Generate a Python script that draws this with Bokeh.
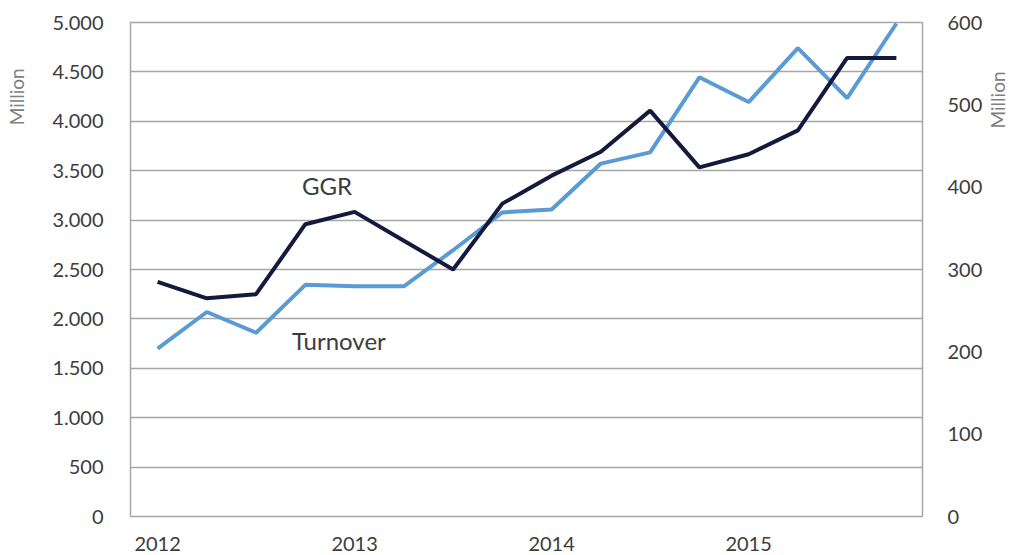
import math
from bokeh.plotting import figure
from bokeh.models import Range1d, LinearAxis, FixedTicker, Label
from bokeh.embed import file_html
from bokeh.resources import INLINE

quarters = ["2012 Q1", "2012 Q2", "2012 Q3", "2012 Q4",
            "2013 Q1", "2013 Q2", "2013 Q3", "2013 Q4",
            "2014 Q1", "2014 Q2", "2014 Q3", "2014 Q4",
            "2015 Q1", "2015 Q2", "2015 Q3", "2015 Q4"]
turnover = [1700, 2070, 1860, 2345, 2330, 2330, 2695, 3078,
            3108, 3572, 3685, 4445, 4195, 4740, 4235, 4990]
ggr = [285, 265, 270, 355, 370, 335, 300, 380,
       414, 443, 493, 424, 440, 469, 557, 557]
year_ticks = [0, 4, 8, 12]
year_labels = ["2012", "2013", "2014", "2015"]
left_ticks = [0, 500, 1000, 1500, 2000, 2500, 3000, 3500, 4000, 4500, 5000]
left_labels = ["0", "500", "1.000", "1.500", "2.000", "2.500", "3.000",
               "3.500", "4.000", "4.500", "5.000"]
right_ticks = [0, 100, 200, 300, 400, 500, 600]
right_labels = ["0", "100", "200", "300", "400", "500", "600"]

FONT = "Lato"
TXT = "#3c3c3c"
GRID = "#a6a6a6"
# leading no-break spaces push the unit labels toward the top of the axes
UNIT_LEFT = "\u00a0" * 71 + "Million"
UNIT_RIGHT = "\u00a0" * 29 + "Million"

xs = list(range(len(quarters)))

p = figure(width=1024, height=555, output_backend="svg", toolbar_location=None,
           x_range=Range1d(-0.55, 15.53), y_range=Range1d(0, 5000),
           min_border_left=130, min_border_right=102, min_border_top=22,
           min_border_bottom=39)
p.extra_y_ranges = {"ggr": Range1d(0, 600)}

p.outline_line_color = GRID
p.outline_line_width = 1.5
p.background_fill_color = "white"
p.border_fill_color = "white"

p.xgrid.grid_line_color = None
p.ygrid.grid_line_color = GRID
p.ygrid.grid_line_width = 1.5


def style_axis(ax, standoff):
    ax.axis_line_color = None
    ax.major_tick_line_color = None
    ax.minor_tick_line_color = None
    ax.major_tick_out = 0
    ax.major_tick_in = 0
    ax.major_label_standoff = standoff
    ax.major_label_text_font = FONT
    ax.major_label_text_font_size = "20px"
    ax.major_label_text_color = TXT


def unit_label(ax, text, standoff):
    ax.axis_label = text
    ax.axis_label_text_font = FONT
    ax.axis_label_text_font_size = "19px"
    ax.axis_label_text_font_style = "normal"
    ax.axis_label_text_color = "#808080"
    ax.axis_label_standoff = standoff


# left axis
ya = p.yaxis[0]
ya.ticker = FixedTicker(ticks=left_ticks)
ya.major_label_overrides = {t: l for t, l in zip(left_ticks, left_labels)}
style_axis(ya, 27)
unit_label(ya, UNIT_LEFT, 21)

# right axis
ra = LinearAxis(y_range_name="ggr", ticker=FixedTicker(ticks=right_ticks))
ra.major_label_overrides = {t: l for t, l in zip(right_ticks, right_labels)}
style_axis(ra, 25)
unit_label(ra, UNIT_RIGHT, 12)
ra.axis_label_orientation = math.pi / 2
p.add_layout(ra, "right")

# x axis
xa = p.xaxis[0]
xa.ticker = FixedTicker(ticks=year_ticks)
xa.major_label_overrides = {t: l for t, l in zip(year_ticks, year_labels)}
style_axis(xa, 20)

p.line(xs, turnover, line_color="#5b9bd5", line_width=4)
p.line(xs, ggr, line_color="#141a3e", line_width=4, y_range_name="ggr")

p.add_layout(Label(x=3.44, y=3350, text="GGR", text_font=FONT,
                   text_font_size="24px", text_color=TXT,
                   text_align="center", text_baseline="middle"))
p.add_layout(Label(x=3.68, y=1781, text="Turnover", text_font=FONT,
                   text_font_size="24px", text_color=TXT,
                   text_align="center", text_baseline="middle"))

open("out.html", "w").write(file_html(p, INLINE))
